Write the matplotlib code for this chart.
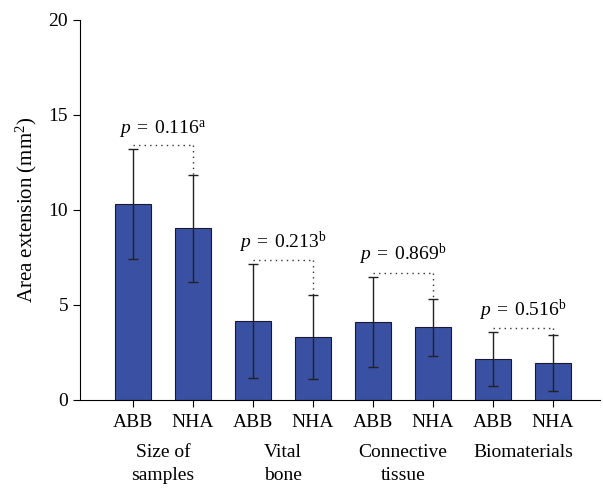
import numpy as np
import matplotlib
matplotlib.use('Agg')
import matplotlib.pyplot as plt

plt.rcParams['font.family'] = ['Liberation Serif', 'DejaVu Serif']
plt.rcParams['mathtext.fontset'] = 'custom'
plt.rcParams['mathtext.rm'] = 'Liberation Serif'
plt.rcParams['mathtext.it'] = 'Liberation Serif:italic'

# data
groups = ['Size of\nsamples', 'Vital\nbone', 'Connective\ntissue', 'Biomaterials']
materials = ['ABB', 'NHA']
means = [10.3, 9.03, 4.15, 3.3, 4.12, 3.82, 2.15, 1.95]
errs = [2.9, 2.8, 3.0, 2.2, 2.37, 1.52, 1.42, 1.48]
pvals = ['0.116', '0.213', '0.869', '0.516']
sups = ['a', 'b', 'b', 'b']

x = np.arange(len(means))
bar_color = '#3a50a2'

fig = plt.figure(figsize=(6.03, 4.90), dpi=100)
ax = fig.add_axes([0.1327, 0.1837, 0.862, 0.7755])

ax.bar(x, means, width=0.6, color=bar_color, edgecolor='#1a1a2e', linewidth=0.8, zorder=2)
ax.errorbar(x, means, yerr=errs, fmt='none', ecolor='#222222', elinewidth=1.0,
            capsize=3.5, capthick=1.0, zorder=3)

# dotted brackets with p values
for i in range(len(groups)):
    l, r = 2 * i, 2 * i + 1
    top_l = means[l] + errs[l]
    top_r = means[r] + errs[r]
    yb = max(top_l, top_r) + 0.2
    ax.plot([l, r], [yb, yb], linestyle=(0, (1, 3)), color='#333333', linewidth=1.0)
    if top_r < yb - 0.3:
        ax.plot([r, r], [yb, top_r], linestyle=(0, (1, 3)), color='#333333', linewidth=1.0)
    ax.text((l + r) / 2, yb + 0.3, r'$p\;=\;$' + pvals[i] + r'$^{\mathrm{' + sups[i] + '}}$',
            ha='center', va='bottom', fontsize=14)

ax.set_xlim(-0.883, 7.78)
ax.set_ylim(0, 20)
ax.set_yticks([0, 5, 10, 15, 20])
ax.set_xticks(x)
ax.set_xticklabels(materials * len(groups), fontsize=14)
ax.tick_params(axis='y', labelsize=14, direction='out', length=5)
ax.tick_params(axis='x', direction='out', length=5, pad=5)
ax.spines['top'].set_visible(False)
ax.spines['right'].set_visible(False)
ax.set_ylabel('Area extension (mm$^2$)', fontsize=15, labelpad=7)

for i, g in enumerate(groups):
    ax.text(2 * i + 0.5, -2.3, g, ha='center', va='top', fontsize=14,
            linespacing=1.45, transform=ax.transData)

fig.savefig('out.png', dpi=100)
